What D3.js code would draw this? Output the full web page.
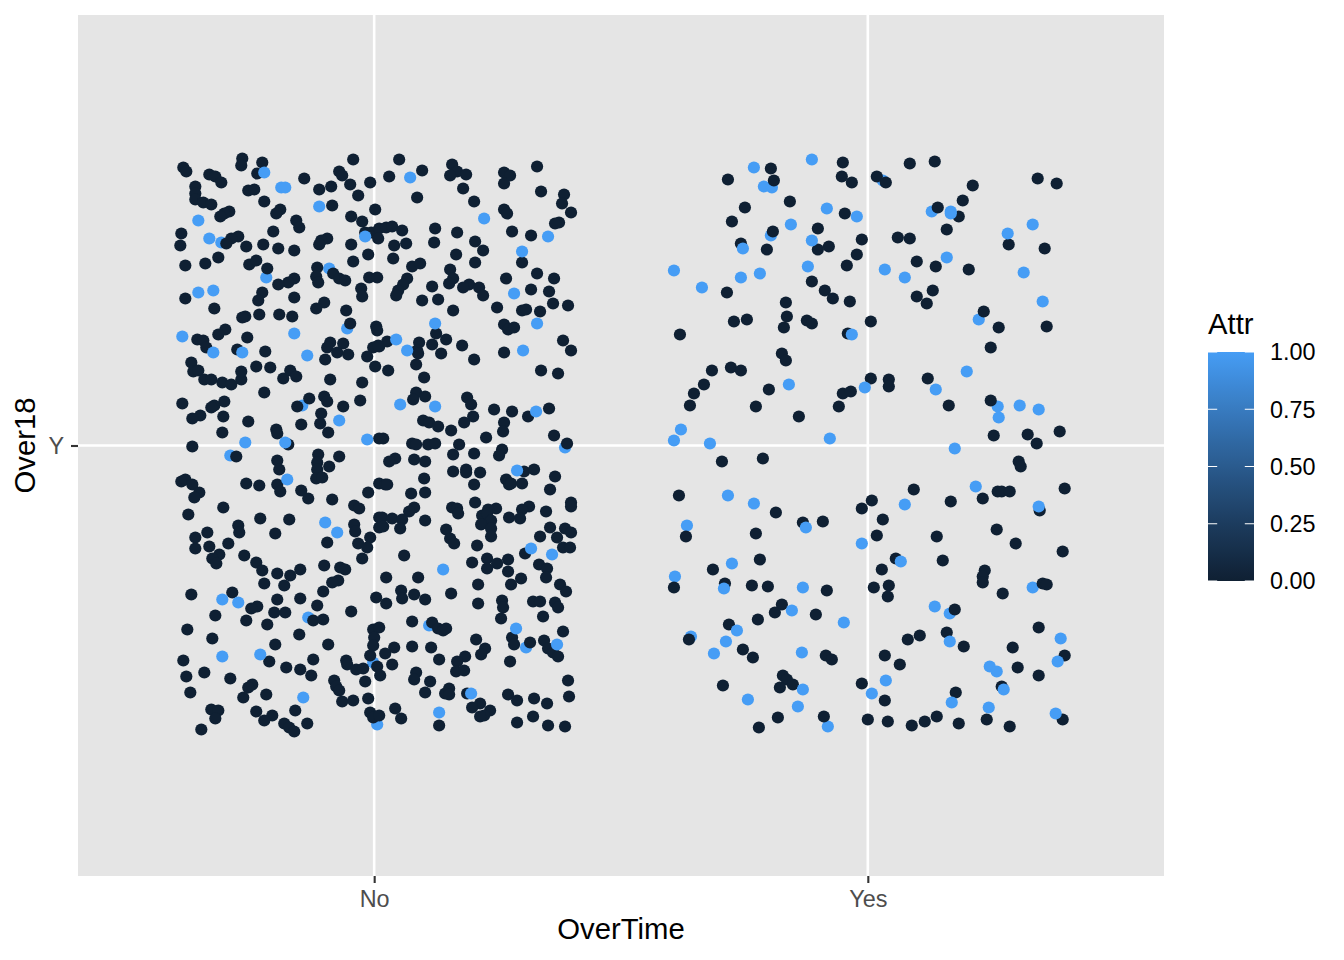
<!DOCTYPE html>
<html>
<head>
<meta charset="utf-8">
<script src="https://cdn.jsdelivr.net/npm/d3@7"></script>
<style>
html,body{margin:0;padding:0;background:#fff;}
svg{display:block;font-family:"Liberation Sans",Arial,sans-serif;}
</style>
</head>
<body>
<svg id="chart" width="1344" height="960"></svg>
<script>
// Category labels and legend ticks
const xCategories = ["No", "Yes"];
const yCategories = ["Y"];
const attrTicks = [0, 0.25, 0.5, 0.75, 1];
// Jitter readings: horizontal and vertical offset from the category centre.
// One category step is 494 units across and 717.5 units up.
const noStay = [
[-191,278],[-188,274],[-132,287],[-133,280],[-112,283],[-117,272],[-165,271],[-159,269],[-153,263],[-179,259],[-179,252],[-179,246],[-171,243],[-163,241],[-126,255],[-120,256],[-110,244],[-70,267],[-55,256],[-43,259],[-35,274],[-32,270],[-21,286],[-24,261],[-4,263],[-16,250],[-42,240],[1,236],[-23,229],[-12,224],
[-145,234],[-150,232],[-154,229],[-94,236],[-98,232],[-78,225],[-75,218],[-101,214],[-193,212],[-194,200],[-136,209],[-143,207],[-148,202],[-128,199],[-111,201],[-96,197],[-80,195],[-47,207],[-53,205],[-55,201],[-23,201],[-6,191],[-21,184],[-9,213],[-3,213],[5,217],[4,207],
[-156,188],[-169,182],[-189,180],[-125,181],[-118,185],[-107,177],[-57,178],[-58,169],[-56,163],[-41,172],[-35,167],[-29,165],[-5,168],[3,168],[-80,167],[-86,163],[-96,161],[-13,157],[-12,149],[-112,153],[-116,145],[-80,148],[-189,147],[-50,143],[-58,137],[-160,137],[-28,135],[-129,129],[-132,128],[-115,131],[-95,131],[-82,129],[-24,122],[2,119],[3,115],[-149,116],[-156,111],[-127,108],[-177,106],[-171,105],[-168,98],[-137,96],[-109,94],[-44,103],[-31,102],[-47,98],[-1,98],[5,99],
[25,286],[48,275],[15,269],[78,281],[83,274],[76,270],[92,271],[89,257],[100,244],[43,248],[130,273],[136,270],[130,262],[163,279],[167,254],[190,251],[188,242],[197,233],[130,236],[133,232],[185,223],[181,222],[138,214],[157,210],[61,217],[83,213],[60,203],[101,204],[109,195],[82,191],[101,183],[148,183],[12,218],[18,219],[28,215],[20,200],[32,202],[19,187],[38,179],[46,182],
[76,176],[79,167],[75,162],[95,161],[89,158],[105,158],[109,150],[58,159],[48,145],[64,146],[79,135],[33,167],[29,161],[24,155],[22,150],[132,167],[163,172],[180,167],[157,156],[175,154],[179,142],[194,140],[123,138],[148,135],[152,136],[166,134],[130,121],[134,116],[140,118],[62,112],[13,104],[4,100],[45,103],[72,106],[58,101],[88,100],[189,105],[197,95],[130,93],[43,95],
[-37,93],[-26,91],[-49,86],[-7,89],[1,79],[-183,83],[-181,74],[-176,75],[-170,66],[-163,66],[-152,63],[-143,61],[-133,66],[-133,74],[-118,79],[-104,78],[-91,67],[-84,75],[-78,69],[-44,66],[-12,63],[-110,53],[-192,42],[-150,44],[-160,40],[-163,38],[-174,30],[-182,27],[-151,29],[-126,24],[-152,13],[-65,47],[-77,39],[-50,49],[-47,44],[-31,39],[-14,45],[-53,32],[-54,22],[-73,21],[-46,13],[-98,16],[-97,12],[-182,-1],[-138,-11],[-86,1],[-56,-9],[-57,-17],[-57,-24],[-45,-21],[-35,-11],[-97,-15],[-95,-24],[-58,-33],[-52,-32],[-193,-36],[-189,-34],[-182,-39],[-175,-47],[-180,-52],[-128,-38],[-115,-40],[-97,-39],[-94,-46],[-73,-45],[-66,-53],[-42,-54],[-6,-47],[-20,-60],[-15,-63],[-151,-62],[-186,-69],[-114,-73],[-85,-74],[-136,-80],[-135,-87],[-167,-87],[-179,-92],[-99,-88],[-20,-79],[-19,-86],[-4,-92],[-16,-98],[-47,-97],[-146,-98],[-165,-101],[-179,-103],[5,-72],[5,-82],[5,7],[5,-38],
[14,75],[44,92],[42,81],[50,68],[67,92],[100,86],[167,75],[184,72],[42,53],[39,46],[51,49],[93,48],[97,41],[99,29],[90,23],[77,15],[49,25],[55,23],[64,19],[120,36],[138,34],[154,29],[175,37],[130,23],[129,14],[112,8],[180,10],[9,7],[38,2],[42,1],[54,1],[61,2],[85,1],[79,-9],[100,-8],[128,-4],[125,-10],[193,2],[21,-13],[15,-16],[40,-14],[51,-16],[79,-26],[92,-24],[92,-27],[106,-27],[150,-26],[160,-24],[181,-31],[50,-33],[132,-34],[135,-39],[137,-38],[148,-38],[100,-39],[176,-44],[11,-39],[13,-39],[51,-47],[37,-48],[101,-57],[197,-57],[197,-61],[40,-62],[35,-66],[78,-62],[83,-63],[84,-68],[122,-63],[114,-64],[155,-61],[148,-64],[172,-66],[108,-70],[113,-68],[135,-72],[146,-73],[8,-72],[18,-73],[28,-74],[9,-81],[26,-83],[51,-75],[117,-75],[107,-79],[117,-83],[117,-91],[72,-84],[76,-93],[80,-98],[176,-82],[166,-91],[183,-92],[191,-83],[197,-87],[103,-100],[189,-102],[196,-102],
[-7,-102],[-12,-113],[-155,-109],[-162,-113],[-158,-118],[-130,-110],[-118,-117],[-112,-125],[-97,-128],[-84,-130],[-74,-124],[-110,-138],[-90,-140],[-50,-120],[-34,-122],[-29,-124],[-36,-135],[-42,-137],[-51,-146],[-183,-149],[-142,-147],[-97,-154],[-74,-153],[-57,-160],[-117,-161],[-123,-163],[-100,-167],[-89,-167],[-23,-166],[-159,-170],[-128,-175],[-107,-179],[-61,-175],[-51,-174],[2,-152],[-187,-184],[-162,-193],[-75,-189],[-99,-199],[-46,-199],[-1,-184],[5,-182],[0,-192],[-1,-200],[-4,-210],[3,-221],[6,-230],[-191,-215],[-170,-227],[-188,-231],[-144,-233],[-105,-216],[-61,-214],[-88,-222],[-74,-224],[-63,-230],[-28,-215],[-27,-219],[-18,-224],[-11,-223],[-9,-236],[-40,-235],[-38,-241],[-35,-245],[-184,-247],[-122,-239],[-126,-242],[-131,-252],[-108,-249],[-6,-253],[-32,-256],[-21,-255],[-163,-264],[-156,-265],[-159,-273],[-118,-266],[-102,-270],[-110,-275],[-79,-265],[-90,-278],[-85,-282],[-80,-286],[-67,-278],[-173,-284],[-4,-267],[-1,-272],[5,-270],
[151,-108],[30,-110],[98,-117],[113,-113],[123,-118],[113,-123],[134,-114],[134,-126],[165,-119],[173,-123],[172,-132],[147,-133],[137,-139],[104,-139],[12,-132],[44,-132],[186,-139],[192,-146],[27,-145],[28,-153],[40,-149],[51,-154],[12,-158],[77,-148],[104,-158],[128,-155],[129,-162],[127,-173],[159,-156],[166,-156],[181,-157],[184,-162],[169,-171],[38,-176],[58,-177],[64,-183],[69,-185],[72,-183],[189,-186],[138,-192],[140,-199],[156,-197],[170,-195],[174,-203],[179,-207],[184,-211],[102,-194],[38,-201],[57,-202],[20,-202],[11,-208],[18,-219],[111,-203],[107,-209],[91,-211],[65,-214],[83,-216],[136,-216],[82,-226],[90,-225],[42,-227],[40,-234],[56,-236],[51,-247],[75,-243],[71,-248],[75,-249],[93,-248],[194,-235],[195,-251],[134,-249],[143,-255],[160,-253],[173,-258],[106,-258],[98,-262],[116,-265],[110,-270],[106,-271],[21,-263],[27,-273],[65,-280],[143,-277],[159,-271],[174,-280],[191,-281]
];
const noLeftBehind = [[-153,203],[-45,177],[-108,168],[-27,117],[-72,40],[-144,-10],[-66,-172],[55,-180],[152,-202],[191,-2],[-1,-217],[3,-279]];
const noLeftFront = [[-110,273],[-93,258],[-89,258],[-55,239],[-176,225],[-165,207],[-176,153],[-161,155],[-192,109],[-80,112],[-161,93],[-132,93],[-67,90],[36,268],[110,227],[174,209],[148,194],[140,152],[61,122],[22,106],[163,122],[33,95],[149,95],[-9,209],[-35,25],[-129,3],[-89,3],[-7,6],[-87,-34],[-49,-77],[-37,-87],[26,41],[61,39],[162,34],[143,-25],[157,-103],[-152,-154],[-136,-157],[-152,-211],[-114,-209],[-71,-252],[178,-109],[69,-124],[142,-183],[183,-199],[97,-248],[65,-267]];
const yesStay = [
[-140,266],[-97,277],[-94,265],[-25,283],[-26,269],[-16,263],[-78,244],[-123,238],[-136,224],[-23,232],[-95,214],[-50,217],[-127,202],[-6,206],[-101,196],[-50,196],[-39,199],[-11,191],[-21,180],[-56,164],[-141,153],[-43,155],[-35,147],[-18,144],[-82,143],[-81,129],[-84,118],[-134,124],[-121,126],[-61,125],[-56,122],[3,124],[-188,111],[-20,112],[-86,92],[-82,85],[-156,75],[-137,78],[-127,75],[-164,61],[-174,52],[-178,40],[-99,56],[-112,39],[-69,29],[-25,52],[-17,54],[-29,39],[3,67],
[42,282],[67,284],[9,269],[18,263],[105,260],[170,267],[189,262],[95,245],[70,238],[91,229],[79,216],[30,208],[42,207],[141,201],[177,197],[49,184],[68,179],[101,176],[65,155],[49,149],[59,142],[116,134],[131,118],[179,119],[123,98],[21,66],[21,59],[60,67],[81,40],[123,45],[126,10],[160,11],[169,2],[192,14],
[-146,-16],[-105,-13],[-189,-50],[-92,-67],[-65,-77],[-45,-76],[-6,-63],[4,-55],[-112,-88],[-182,-91],[-108,-114],[-155,-124],[-194,-142],[-143,-138],[-116,-140],[-100,-141],[-41,-145],[-86,-159],[-93,-167],[-52,-169],[-110,-174],[-139,-179],[-179,-194],[-125,-204],[-115,-212],[-42,-210],[-36,-214],[-85,-230],[-81,-234],[-75,-239],[-88,-242],[-145,-240],[-6,-238],[-90,-272],[-109,-282],[-44,-271],[0,-274],
[151,-16],[153,-21],[46,-44],[83,-56],[115,-53],[130,-46],[134,-46],[142,-46],[197,-43],[172,-65],[15,-74],[9,-90],[69,-91],[129,-84],[148,-98],[195,-106],[28,-113],[14,-124],[75,-115],[117,-125],[115,-131],[115,-137],[21,-140],[6,-142],[20,-151],[135,-148],[175,-138],[179,-139],[87,-164],[79,-187],[52,-190],[40,-194],[96,-201],[171,-182],[145,-202],[197,-210],[17,-210],[32,-219],[150,-222],[171,-230],[134,-241],[88,-247],[17,-255],[69,-271],[57,-276],[44,-280],[91,-278],[119,-274],[142,-281],[195,-274],[20,-276]
];
const yesLeftBehind = [[-97,210],[-104,259],[-96,258],[15,265],[64,234],[111,126],[130,39],[-193,-131],[-181,-80],[-177,-191],[82,-168],[165,-142],[-40,-281]];
const yesLeftFront = [[-56,286],[-114,278],[-41,237],[-11,229],[-77,221],[-56,205],[-125,197],[-60,179],[-194,175],[-127,168],[-108,172],[-166,158],[-16,111],[-79,61],[-3,58],[-187,16],[-194,5],[-158,2],[-38,7],[83,234],[83,232],[165,221],[140,212],[79,188],[17,176],[37,168],[156,173],[175,144],[99,74],[68,56],[152,40],[171,36],[131,28],[87,-3],[-140,-50],[-114,-58],[-62,-82],[-6,-98],[-136,-118],[-144,-143],[-65,-142],[-76,-165],[-24,-177],[-131,-185],[-142,-196],[-154,-208],[-66,-207],[-65,-244],[-120,-254],[-70,-261],[108,-41],[37,-59],[171,-61],[33,-116],[67,-161],[82,-196],[193,-193],[190,-216],[122,-221],[129,-226],[136,-244],[18,-235],[4,-248],[84,-257],[121,-262],[188,-268]
];
const w = 1344, h = 960;
const panel = {l:78, r:1164, t:15, b:876};
const stepX = 494, stepY = 717.5;
const fillLow = "#0f2033", fillHigh = "#469df5";

const svg = d3.select("#chart");
const x = d3.scaleLinear().domain([0.4, 2.6]).range([panel.l, panel.r]);
const y = d3.scaleLinear().domain([0.4, 1.6]).range([panel.b, panel.t]);
const color = d3.scaleLinear().domain([0, 1]).range([fillLow, fillHigh]).interpolate(d3.interpolateLab);

svg.append("rect").attr("x", panel.l).attr("y", panel.t)
  .attr("width", panel.r - panel.l).attr("height", panel.b - panel.t).attr("fill", "#e5e5e5");

// grid
svg.append("g").selectAll("line").data([1, 2]).join("line")
  .attr("x1", d => x(d)).attr("x2", d => x(d)).attr("y1", panel.t).attr("y2", panel.b)
  .attr("stroke", "#fff").attr("stroke-width", 2.6);
svg.append("line").attr("x1", panel.l).attr("x2", panel.r).attr("y1", y(1)).attr("y2", y(1))
  .attr("stroke", "#fff").attr("stroke-width", 2.6);

// points
const layers = [
  [noLeftBehind, 1, 1], [yesLeftBehind, 2, 1],
  [noStay, 1, 0], [yesStay, 2, 0],
  [noLeftFront, 1, 1], [yesLeftFront, 2, 1]
];
const gp = svg.append("g");
layers.forEach(([pts, cat, attr]) => {
  gp.append("g").selectAll("circle").data(pts).join("circle")
    .attr("cx", d => x(cat + d[0] / stepX))
    .attr("cy", d => y(1 + d[1] / stepY))
    .attr("r", 6.1)
    .attr("fill", color(attr));
});

// axes
const xAxis = d3.axisBottom(x).tickValues([1, 2]).tickFormat(d => xCategories[d - 1]).tickSize(7).tickPadding(7);
const yAxis = d3.axisLeft(y).tickValues([1]).tickFormat(d => yCategories[d - 1]).tickSize(7).tickPadding(7);
const gx = svg.append("g").attr("transform", `translate(0,${panel.b})`).call(xAxis);
const gy = svg.append("g").attr("transform", `translate(${panel.l},0)`).call(yAxis);
[gx, gy].forEach(g => {
  g.select(".domain").remove();
  g.selectAll("line").attr("stroke", "#333").attr("stroke-width", 2.1);
  g.selectAll("text").attr("fill", "#4d4d4d").attr("font-size", 23.4).attr("font-family", '"Liberation Sans",Arial,sans-serif');
});

// titles
svg.append("text").attr("x", 621).attr("y", 939).attr("text-anchor", "middle")
  .attr("font-size", 29.3).attr("fill", "#000").text("OverTime");
svg.append("text").attr("transform", "translate(35,445.5) rotate(-90)").attr("text-anchor", "middle")
  .attr("font-size", 29.3).attr("fill", "#000").text("Over18");

// legend
const bar = {x:1208, w:46, t:352, b:581};
const legY = d3.scaleLinear().domain([0, 1]).range([bar.b, bar.t]);
const grad = svg.append("defs").append("linearGradient").attr("id", "attrGrad")
  .attr("x1", 0).attr("x2", 0).attr("y1", 1).attr("y2", 0);
d3.range(0, 1.0001, 0.05).forEach(t => grad.append("stop").attr("offset", t).attr("stop-color", color(t)));
svg.append("text").attr("x", bar.x).attr("y", 334).attr("font-size", 29.3).attr("fill", "#000").text("Attr");
svg.append("rect").attr("x", bar.x).attr("y", bar.t).attr("width", bar.w).attr("height", bar.b - bar.t).attr("fill", "url(#attrGrad)");
const legG = svg.append("g").selectAll("g").data(attrTicks).join("g");
legG.append("line").attr("x1", bar.x).attr("x2", bar.x + 9.2).attr("y1", d => legY(d)).attr("y2", d => legY(d)).attr("stroke", "#fff").attr("stroke-width", 1);
legG.append("line").attr("x1", bar.x + bar.w - 9.2).attr("x2", bar.x + bar.w).attr("y1", d => legY(d)).attr("y2", d => legY(d)).attr("stroke", "#fff").attr("stroke-width", 1);
legG.append("text").attr("x", 1270).attr("y", d => legY(d)).attr("dy", "0.36em").attr("font-size", 23.4).attr("fill", "#000").text(d => d3.format(".2f")(d));
</script>
</body>
</html>
